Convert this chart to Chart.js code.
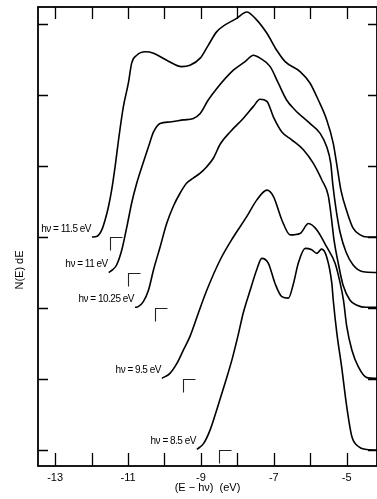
<!DOCTYPE html>
<html lang="en">
<head>
<meta charset="utf-8">
<title>N(E) dE curves</title>
<script src="https://cdn.jsdelivr.net/npm/chart.js@4/dist/chart.umd.min.js"></script>
<style>
  html, body { margin: 0; padding: 0; background: #fff; }
  #c { display: block; }
</style>
</head>
<body>
<canvas id="c" width="377" height="499"></canvas>
<script>
// photon energy of each curve and its zero level (curves are stacked)
const hv = [11.5, 11, 10.25, 9.5, 8.5];
const baseLevel = [3, 2.5, 2, 1, 0];
const hvLabels = ['hν = 11.5 eV', 'hν = 11 eV', 'hν = 10.25 eV', 'hν = 9.5 eV', 'hν = 8.5 eV'];
const xTicks = [-13, -11, -9, -7, -5];

// (E - hν) in eV and N(E) for each curve
const e115 = [-11.99,-11.85,-11.72,-11.63,-11.54,-11.45,-11.35,-11.26,-11.13,-10.99,-10.90,-10.76,-10.53,-10.30,-9.94,-9.53,-9.30,-9.02,-8.80,-8.57,-8.02,-7.74,-7.51,-7.19,-6.92,-6.69,-6.28,-6.01,-5.78,-5.55,-5.37,-5.27,-5.16,-4.99,-4.83,-4.63,-4.44,-4.17];
const n115 = [3.00,3.01,3.10,3.24,3.42,3.66,4.01,4.37,4.83,5.17,5.45,5.56,5.61,5.59,5.49,5.40,5.42,5.52,5.70,5.89,6.08,6.17,6.08,5.87,5.63,5.47,5.33,5.17,4.93,4.65,4.32,4.01,3.66,3.35,3.13,3.03,3.00,3.00];

const e110 = [-11.53,-11.42,-11.31,-11.17,-11.03,-10.90,-10.76,-10.62,-10.44,-10.30,-10.12,-9.85,-9.48,-9.21,-9.02,-8.80,-8.57,-8.11,-7.79,-7.56,-7.38,-7.10,-6.88,-6.65,-6.42,-6.01,-5.73,-5.55,-5.44,-5.38,-5.29,-5.18,-5.02,-4.83,-4.55,-4.17];
const n110 = [2.50,2.54,2.61,2.82,3.15,3.48,3.76,3.99,4.27,4.48,4.60,4.62,4.65,4.67,4.74,4.93,5.09,5.35,5.47,5.56,5.52,5.40,5.17,4.93,4.79,4.60,4.46,4.27,4.04,3.73,3.38,3.06,2.79,2.61,2.51,2.50];

const e1025 = [-10.81,-10.72,-10.58,-10.44,-10.30,-10.12,-9.94,-9.76,-9.57,-9.39,-9.21,-9.02,-8.84,-8.66,-8.47,-8.20,-7.84,-7.56,-7.38,-7.19,-7.01,-6.78,-6.51,-6.19,-5.92,-5.68,-5.51,-5.43,-5.35,-5.24,-5.10,-4.91,-4.72,-4.47,-4.17];
const n1025 = [2.01,2.02,2.09,2.25,2.54,2.86,3.19,3.43,3.62,3.76,3.83,3.90,3.99,4.11,4.31,4.48,4.67,4.84,4.94,4.91,4.69,4.48,4.37,4.23,4.04,3.80,3.59,3.31,2.96,2.65,2.32,2.11,2.04,2.01,2.01];

const e95 = [-10.07,-9.85,-9.66,-9.48,-9.30,-9.07,-8.84,-8.47,-8.11,-7.74,-7.47,-7.19,-7.01,-6.78,-6.55,-6.28,-6.05,-5.82,-5.55,-5.32,-5.18,-5.09,-5.00,-4.86,-4.68,-4.45,-4.17];
const n95 = [1.01,1.08,1.22,1.41,1.60,1.93,2.25,2.68,3.00,3.29,3.52,3.66,3.57,3.24,3.03,3.05,3.19,3.10,2.86,2.63,2.35,2.11,1.74,1.41,1.17,1.02,1.01];

const e85 = [-9.11,-8.93,-8.75,-8.57,-8.34,-8.15,-7.97,-7.84,-7.65,-7.47,-7.33,-7.15,-6.97,-6.78,-6.60,-6.46,-6.33,-6.14,-5.96,-5.82,-5.69,-5.55,-5.41,-5.37,-5.27,-5.14,-5.00,-4.86,-4.68,-4.50,-4.17];
const n85 = [0.01,0.09,0.28,0.56,0.94,1.27,1.64,1.93,2.25,2.54,2.70,2.63,2.35,2.16,2.14,2.35,2.63,2.84,2.82,2.77,2.83,2.72,2.35,2.11,1.64,1.17,0.61,0.19,0.05,0.01,0.00];

const curves = [[e115, n115], [e110, n110], [e1025, n1025], [e95, n95], [e85, n85]];

const FONT = 'Liberation Sans';

// white page, frame with inward ticks, E=0 marks, curve labels, y title
const decor = {
  id: 'decor',
  beforeDraw(chart) {
    const ctx = chart.ctx;
    ctx.save();
    ctx.fillStyle = '#fff';
    ctx.fillRect(0, 0, chart.width, chart.height);
    ctx.restore();
  },
  afterDatasetsDraw(chart) {
    const {ctx, chartArea: a, scales: {x, y}} = chart;
    ctx.save();
    ctx.strokeStyle = '#000';
    ctx.lineWidth = 1.8;
    ctx.strokeRect(a.left, a.top, a.right - a.left, a.bottom - a.top);

    ctx.lineWidth = 1.3;
    ctx.beginPath();
    for (let v = Math.ceil(x.min); v <= Math.floor(x.max); v++) {
      const px = Math.round(x.getPixelForValue(v)) + 0.5;
      ctx.moveTo(px, a.bottom); ctx.lineTo(px, a.bottom - 13);
      ctx.moveTo(px, a.top); ctx.lineTo(px, a.top + 12);
    }
    for (let v = Math.ceil(y.min); v <= Math.floor(y.max); v++) {
      const py = Math.round(y.getPixelForValue(v)) + 0.5;
      ctx.moveTo(a.left, py); ctx.lineTo(a.left + 10, py);
      ctx.moveTo(a.right, py); ctx.lineTo(a.right - 9, py);
    }
    ctx.stroke();

    // corner marks at E = 0 on each curve's zero level
    ctx.lineWidth = 1.1;
    ctx.strokeStyle = '#222';
    ctx.beginPath();
    hv.forEach((h, i) => {
      const bx = Math.round(x.getPixelForValue(-h)) + 0.5;
      const by = Math.round(y.getPixelForValue(baseLevel[i])) + 0.5;
      ctx.moveTo(bx, by + 13); ctx.lineTo(bx, by); ctx.lineTo(bx + 12, by);
    });
    ctx.stroke();

    // labels sit just left of where each curve starts
    ctx.fillStyle = '#000';
    ctx.font = '10px "' + FONT + '"';
    ctx.letterSpacing = '-0.5px';
    ctx.textAlign = 'right';
    ctx.textBaseline = 'middle';
    chart.data.datasets.forEach((ds, i) => {
      const p = ds.data[0];
      ctx.fillText(hvLabels[i], x.getPixelForValue(p.x) - 1, y.getPixelForValue(p.y) - 8);
    });
    ctx.letterSpacing = '0px';

    ctx.font = '11px "' + FONT + '"';
    ctx.textAlign = 'center';
    ctx.translate(20, 270);
    ctx.rotate(-Math.PI / 2);
    ctx.fillText('N(E) dE', 0, 0);
    ctx.restore();
  }
};

new Chart(document.getElementById('c'), {
  type: 'line',
  data: {
    datasets: curves.map(([e, n]) => ({
      data: e.map((v, i) => ({x: v, y: n[i]})),
      borderColor: '#000',
      borderWidth: 1.6,
      pointRadius: 0,
      fill: false,
      cubicInterpolationMode: 'monotone'
    }))
  },
  options: {
    responsive: false,
    animation: false,
    layout: { padding: { top: 7, right: 0, bottom: 0, left: 0 } },
    scales: {
      x: {
        type: 'linear',
        min: -13.47,
        max: -4.17,
        grid: { display: false, drawTicks: false },
        border: { display: false },
        ticks: {
          stepSize: 1,
          includeBounds: false,
          autoSkip: false,
          maxRotation: 0,
          padding: 5,
          color: '#000',
          font: { family: FONT, size: 11 },
          callback: v => xTicks.includes(v) ? String(v) : ''
        },
        title: {
          display: true,
          text: '(E − hν)  (eV)',
          color: '#000',
          font: { family: FONT, size: 11 },
          padding: { top: 0, bottom: 4 }
        },
        afterFit: s => { s.height = 33; }
      },
      y: {
        min: -0.225,
        max: 6.24,
        grid: { display: false, drawTicks: false },
        border: { display: false },
        ticks: { display: false },
        afterFit: s => { s.width = 38; }
      }
    },
    plugins: {
      legend: { display: false },
      tooltip: { enabled: false }
    }
  },
  plugins: [decor]
});
</script>
</body>
</html>
